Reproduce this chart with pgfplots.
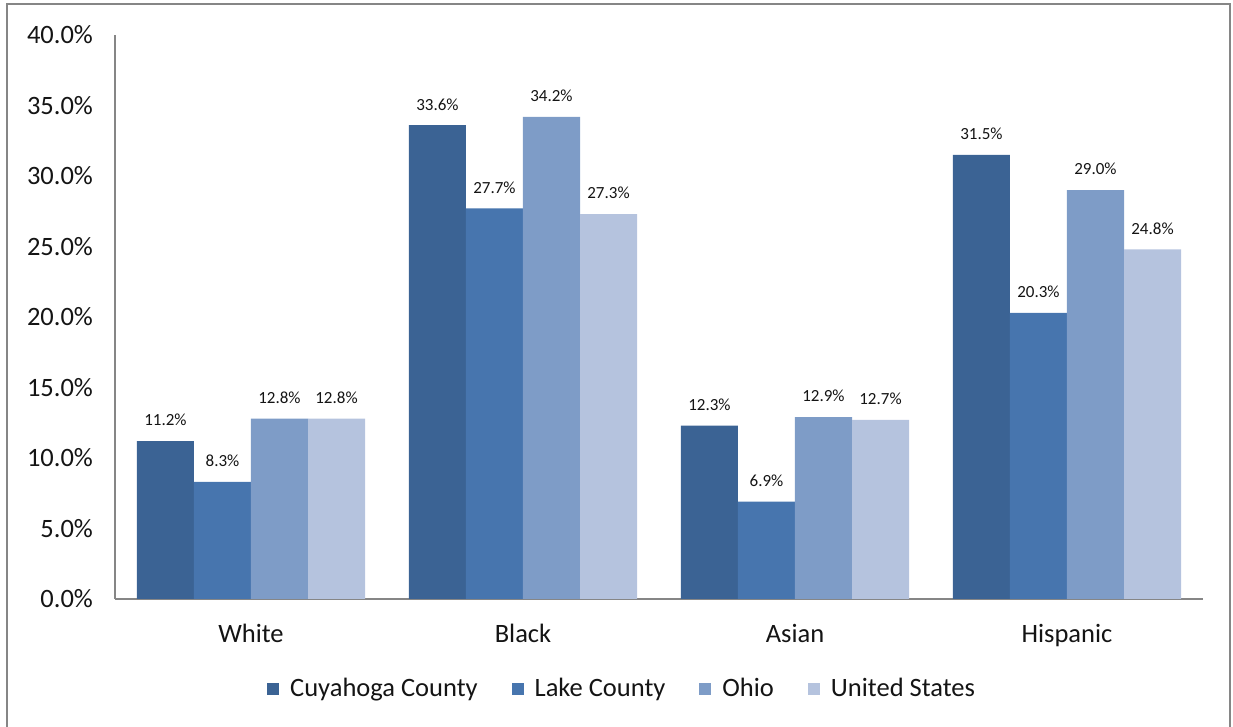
\documentclass[border=0pt]{standalone}
\usepackage{pgfplots}
\pgfplotsset{compat=1.18}
\usepackage{fontspec}
\setmainfont{Carlito}
\definecolor{cCuy}{RGB}{59,99,148}
\definecolor{cLake}{RGB}{71,117,174}
\definecolor{cOhio}{RGB}{126,156,199}
\definecolor{cUS}{RGB}{181,195,222}
\definecolor{frame}{RGB}{134,134,134}
\definecolor{txt}{RGB}{20,20,20}
\begin{document}
\begin{tikzpicture}
\useasboundingbox (0,0) rectangle (616.5pt,363.5pt);
\draw[frame,line width=1pt] (3.5pt,-2pt) -- (3.5pt,361.5pt) -- (615pt,361.5pt) -- (615pt,-2pt);
\begin{axis}[
  at={(57.5pt,64pt)}, anchor=south west,
  scale only axis, width=544pt, height=282pt,
  xmin=-0.5, xmax=3.5, ymin=0, ymax=40,
  axis x line*=bottom, axis y line*=left,
  axis line style={frame, line width=0.6pt, -},
  ybar=0pt, bar width=0.2096,
  xtick={0,1,2,3}, xticklabels={White,Black,Asian,Hispanic},
  ytick={0,5,...,40},
  major tick length=0pt,
  /pgf/number format/assume math mode=true,
  yticklabel={\pgfmathprintnumber[fixed,fixed zerofill,precision=1]{\tick}\%},
  tick label style={font=\fontsize{13.25}{15}\selectfont, text=txt},
  yticklabel style={xshift=-7.5pt},
  xticklabel style={yshift=-9pt},
  nodes near coords={\pgfmathprintnumber[fixed,fixed zerofill,precision=1]{\pgfplotspointmeta}\%},
  nodes near coords style={font=\fontsize{8.5}{10}\selectfont, text=txt, anchor=south, yshift=4pt},
  legend columns=4,
  legend style={at={(0.467,-0.16)}, anchor=center, draw=none, fill=none,
    font=\fontsize{13.25}{15}\selectfont, text=txt,
    /tikz/every even column/.append style={column sep=15pt}},
  legend image code/.code={\fill[#1] (0pt,-3pt) rectangle (6pt,3pt); \path (9.5pt,0pt);},
]
\addplot[fill=cCuy, draw=none] coordinates {(0,11.2) (1,33.6) (2,12.3) (3,31.5)};
\addplot[fill=cLake, draw=none] coordinates {(0,8.3) (1,27.7) (2,6.9) (3,20.3)};
\addplot[fill=cOhio, draw=none] coordinates {(0,12.8) (1,34.2) (2,12.9) (3,29.0)};
\addplot[fill=cUS, draw=none] coordinates {(0,12.8) (1,27.3) (2,12.7) (3,24.8)};
\legend{Cuyahoga County, Lake County, Ohio, United States}
\end{axis}
\end{tikzpicture}
\end{document}
